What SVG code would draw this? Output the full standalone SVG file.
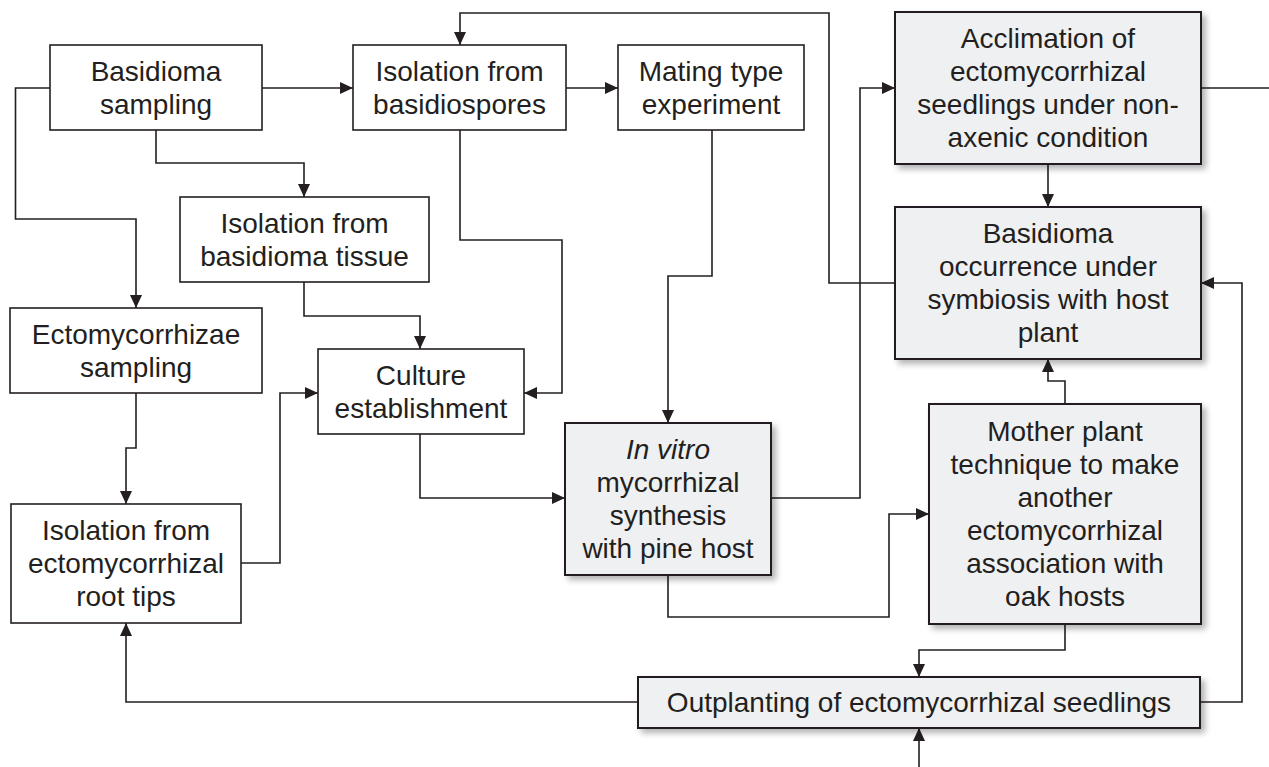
<svg xmlns="http://www.w3.org/2000/svg" width="1269" height="767" viewBox="0 0 1269 767">
<defs>
<style>
.box{fill:#ffffff;stroke:#231f20;stroke-width:1.6}
.sbox{fill:#eff0f2;stroke:#231f20;stroke-width:2;filter:url(#sh)}
.t{font-family:"Liberation Sans",Arial,sans-serif;font-size:28px;fill:#231f20;text-anchor:middle}
.i{font-style:italic}
.c{fill:none;stroke:#231f20;stroke-width:1.6;marker-end:url(#ah)}
.n{fill:none;stroke:#231f20;stroke-width:1.6}
</style>
<marker id="ah" markerUnits="userSpaceOnUse" markerWidth="14" markerHeight="12" refX="13" refY="6" orient="auto">
<path d="M0,0 L13,6 L0,12 Z" fill="#231f20"/>
</marker>
<filter id="sh" x="-10%" y="-10%" width="125%" height="130%">
<feDropShadow dx="4" dy="4" stdDeviation="3" flood-color="#000" flood-opacity="0.3"/>
</filter>
</defs>
<rect width="1269" height="767" fill="#ffffff"/>
<g id="connectors">
<path class="c" d="M262,88 H353"/>
<path class="c" d="M566,88 H618"/>
<path class="c" d="M156,130 V163 H304 V197"/>
<path class="c" d="M50,88 H15.5 V219 H136 V308"/>
<path class="c" d="M460,130 V240 H562 V393 H524"/>
<path class="c" d="M304,282 V316 H420 V349"/>
<path class="c" d="M136,393 V448 H126 V504"/>
<path class="c" d="M241,563 H280 V393 H318"/>
<path class="c" d="M420,434 V498 H565"/>
<path class="c" d="M712,130 V276 H668 V423"/>
<path class="c" d="M771,498 H860 V88 H895"/>
<path class="c" d="M668,575 V617 H889 V514 H929"/>
<path class="n" d="M1201,88 H1269"/>
<path class="c" d="M1048,164 V207"/>
<path class="c" d="M895,283 H829 V13 H460 V45"/>
<path class="c" d="M1065,404 V381 H1048 V359"/>
<path class="c" d="M1065,624 V650 H919 V677"/>
<path class="c" d="M1200,702 H1242 V283 H1201"/>
<path class="c" d="M638,702 H126 V623"/>
<path class="c" d="M919,767 V728"/>
</g>
<g id="basidioma-sampling">
<rect class="box" x="50" y="45" width="212" height="85"/>
<text class="t" x="156" y="81">Basidioma</text>
<text class="t" x="156" y="114">sampling</text>
</g>
<g id="isolation-basidiospores">
<rect class="box" x="353" y="45" width="213" height="85"/>
<text class="t" x="459.5" y="81">Isolation from</text>
<text class="t" x="459.5" y="114">basidiospores</text>
</g>
<g id="mating-type">
<rect class="box" x="618" y="45" width="186" height="85"/>
<text class="t" x="711" y="81">Mating type</text>
<text class="t" x="711" y="114">experiment</text>
</g>
<g id="acclimation">
<rect class="sbox" x="895" y="12" width="306" height="152"/>
<text class="t" x="1048" y="48">Acclimation of</text>
<text class="t" x="1048" y="81">ectomycorrhizal</text>
<text class="t" x="1048" y="114">seedlings under non-</text>
<text class="t" x="1048" y="147">axenic condition</text>
</g>
<g id="basidioma-occurrence">
<rect class="sbox" x="895" y="207" width="306" height="152"/>
<text class="t" x="1048" y="243">Basidioma</text>
<text class="t" x="1048" y="276">occurrence under</text>
<text class="t" x="1048" y="309">symbiosis with host</text>
<text class="t" x="1048" y="342">plant</text>
</g>
<g id="isolation-tissue">
<rect class="box" x="180" y="197" width="249" height="85"/>
<text class="t" x="304.5" y="233">Isolation from</text>
<text class="t" x="304.5" y="266">basidioma tissue</text>
</g>
<g id="ectomycorrhizae-sampling">
<rect class="box" x="10" y="308" width="252" height="85"/>
<text class="t" x="136" y="344">Ectomycorrhizae</text>
<text class="t" x="136" y="377">sampling</text>
</g>
<g id="culture">
<rect class="box" x="318" y="349" width="206" height="85"/>
<text class="t" x="421" y="385">Culture</text>
<text class="t" x="421" y="418">establishment</text>
</g>
<g id="in-vitro">
<rect class="sbox" x="565" y="423" width="206" height="152"/>
<text class="t i" x="668" y="459">In vitro</text>
<text class="t" x="668" y="492">mycorrhizal</text>
<text class="t" x="668" y="525">synthesis</text>
<text class="t" x="668" y="558">with pine host</text>
</g>
<g id="mother-plant">
<rect class="sbox" x="929" y="404" width="272" height="220"/>
<text class="t" x="1065" y="441">Mother plant</text>
<text class="t" x="1065" y="474">technique to make</text>
<text class="t" x="1065" y="507">another</text>
<text class="t" x="1065" y="540">ectomycorrhizal</text>
<text class="t" x="1065" y="573">association with</text>
<text class="t" x="1065" y="606">oak hosts</text>
</g>
<g id="isolation-root-tips">
<rect class="box" x="11" y="504" width="230" height="119"/>
<text class="t" x="126" y="540">Isolation from</text>
<text class="t" x="126" y="573">ectomycorrhizal</text>
<text class="t" x="126" y="606">root tips</text>
</g>
<g id="outplanting">
<rect class="sbox" x="638" y="677" width="562" height="51"/>
<text class="t" x="919" y="712">Outplanting of ectomycorrhizal seedlings</text>
</g>
</svg>
